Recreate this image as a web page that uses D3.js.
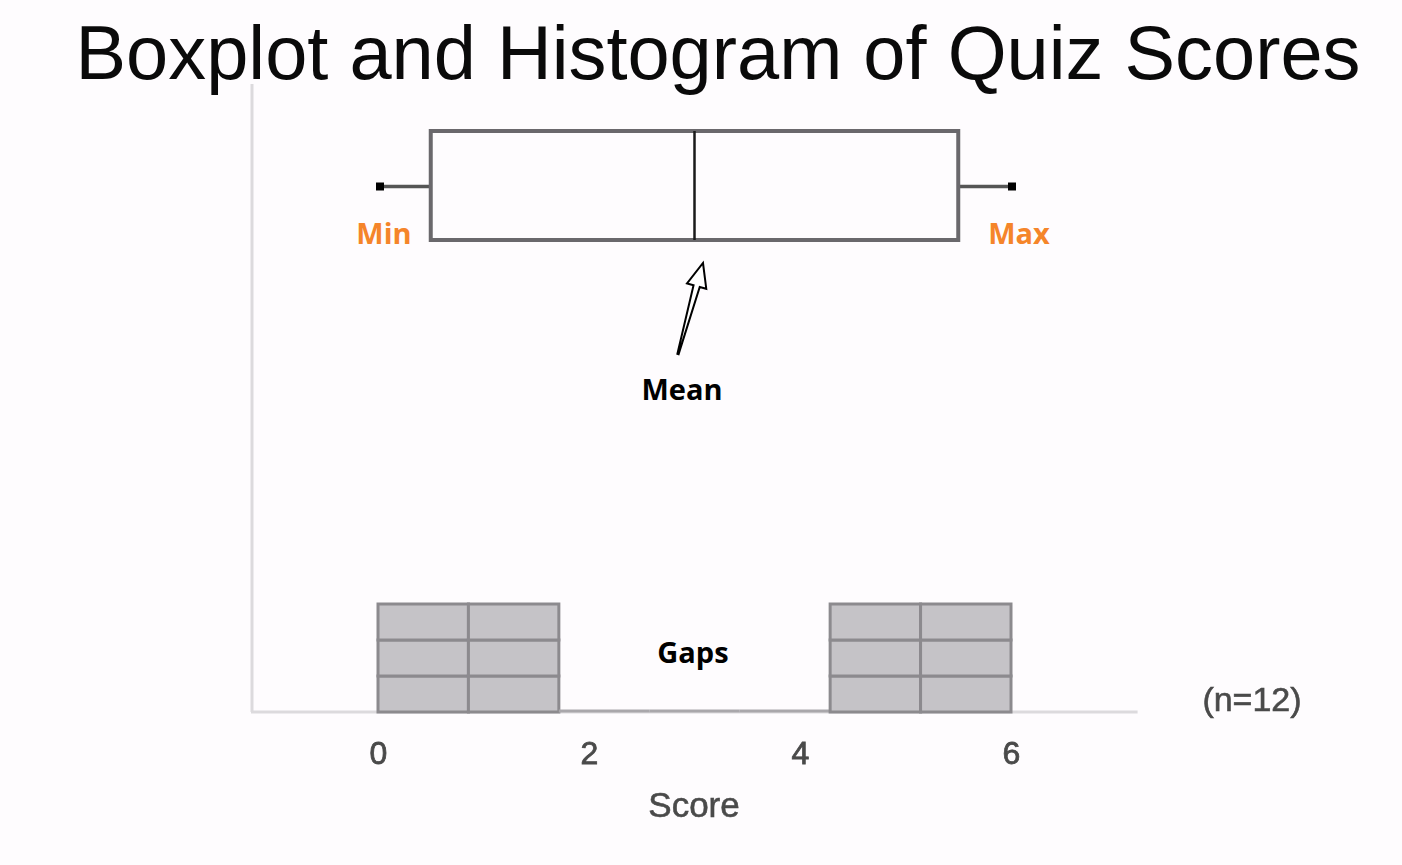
<!DOCTYPE html>
<html>
<head>
<meta charset="utf-8">
<script src="https://cdn.jsdelivr.net/npm/d3@7"></script>
<style>
  html, body { margin: 0; padding: 0; background: #fefcfe; }
  svg { display: block; }
</style>
</head>
<body>
<svg id="chart" width="1402" height="865"></svg>
<script>
// ---- data ----
const titleText = "Boxplot and Histogram of Quiz Scores";
const binEdges = [0, 6/7, 12/7, 18/7, 24/7, 30/7, 36/7, 6];
const binCounts = [3, 3, 0, 0, 0, 3, 3];
const boxStats = { min: 0, q1: 0.5, median: 3, q3: 5.5, max: 6 };
const tickValues = [0, 2, 4, 6];
const xLabel = "Score";
const nLabel = "(n=12)";
const annotations = ["Min", "Max", "Mean", "Gaps"];

// ---- layout ----
const svg = d3.select("#chart");
const x = d3.scaleLinear().domain([0, 6]).range([378, 1011]);
const y = d3.scaleLinear().domain([0, 3]).range([712, 604]);

// title
svg.append("text")
  .attr("x", 718).attr("y", 79)
  .attr("text-anchor", "middle")
  .attr("font-family", "Liberation Sans, Arial, sans-serif")
  .attr("font-size", 75.8)
  .attr("fill", "#0a0a0a")
  .text(titleText);

// y axis line (light)
svg.append("line")
  .attr("x1", 252).attr("x2", 252)
  .attr("y1", 84).attr("y2", y(0))
  .attr("stroke", "#dcdadd").attr("stroke-width", 3);

// x axis line (light)
svg.append("line")
  .attr("x1", 251).attr("x2", x(7.2))
  .attr("y1", y(0)).attr("y2", y(0))
  .attr("stroke", "#dcdadd").attr("stroke-width", 3);

// histogram bins as stacked unit cells
const bins = binCounts.map((c, i) => ({ x0: binEdges[i], x1: binEdges[i + 1], count: c }));
const histG = svg.append("g");
bins.forEach(b => {
  if (b.count === 0) {
    histG.append("line")
      .attr("x1", x(b.x0)).attr("x2", x(b.x1))
      .attr("y1", y(0) - 1).attr("y2", y(0) - 1)
      .attr("stroke", "#a9a7ab").attr("stroke-width", 3);
  } else {
    d3.range(b.count).forEach(k => {
      histG.append("rect")
        .attr("x", x(b.x0)).attr("y", y(k + 1))
        .attr("width", x(b.x1) - x(b.x0))
        .attr("height", y(k) - y(k + 1))
        .attr("fill", "#c5c3c7")
        .attr("stroke", "#8c8a8e").attr("stroke-width", 3);
    });
  }
});

// x axis tick labels
const axis = d3.axisBottom(x).tickValues(tickValues).tickSize(0).tickPadding(0).tickFormat(d3.format("d"));
const axG = svg.append("g").attr("transform", `translate(0, 764)`).call(axis);
axG.select(".domain").remove();
axG.selectAll("text")
  .attr("dy", 0).attr("y", 0)
  .attr("font-family", "Liberation Sans, Arial, sans-serif")
  .attr("font-size", 32)
  .attr("fill", "#4a4a4a")
  .attr("stroke", "#4a4a4a").attr("stroke-width", 0.8)
  .attr("style", "filter: blur(0.7px)");

svg.append("text")
  .attr("x", 694).attr("y", 817)
  .attr("text-anchor", "middle")
  .attr("font-family", "Liberation Sans, Arial, sans-serif")
  .attr("font-size", 35)
  .attr("fill", "#4a4a4a")
  .attr("stroke", "#4a4a4a").attr("stroke-width", 0.6)
  .attr("style", "filter: blur(0.7px)")
  .text(xLabel);

svg.append("text")
  .attr("x", 1252).attr("y", 711)
  .attr("text-anchor", "middle")
  .attr("font-family", "Liberation Sans, Arial, sans-serif")
  .attr("font-size", 34)
  .attr("fill", "#4a4a4a")
  .attr("stroke", "#4a4a4a").attr("stroke-width", 0.6)
  .attr("style", "filter: blur(0.7px)")
  .text(nLabel);

// boxplot
const boxTop = 131, boxBot = 240, boxMid = (boxTop + boxBot) / 2 + 1;
const bp = svg.append("g");
bp.append("line")
  .attr("x1", x(boxStats.min)).attr("x2", x(boxStats.q1))
  .attr("y1", boxMid).attr("y2", boxMid)
  .attr("stroke", "#555").attr("stroke-width", 3.5);
bp.append("line")
  .attr("x1", x(boxStats.q3)).attr("x2", x(boxStats.max))
  .attr("y1", boxMid).attr("y2", boxMid)
  .attr("stroke", "#555").attr("stroke-width", 3.5);
bp.append("rect")
  .attr("x", x(boxStats.q1)).attr("y", boxTop)
  .attr("width", x(boxStats.q3) - x(boxStats.q1))
  .attr("height", boxBot - boxTop)
  .attr("fill", "#fefcfe")
  .attr("stroke", "#6a686c").attr("stroke-width", 4);
bp.append("line")
  .attr("x1", x(boxStats.median)).attr("x2", x(boxStats.median))
  .attr("y1", boxTop).attr("y2", boxBot)
  .attr("stroke", "#1a1a1a").attr("stroke-width", 2.5);
[boxStats.min, boxStats.max].forEach(v => {
  bp.append("rect")
    .attr("x", x(v) - 4 + (v === boxStats.min ? 2 : 1)).attr("y", boxMid - 4)
    .attr("width", 8).attr("height", 8)
    .attr("fill", "#000");
});

// annotation labels
const labelFont = "'Open Sans', 'Noto Sans', sans-serif";
const lab = (txt, lx, ly, col, fs) => svg.append("text").attr("x", lx).attr("y", ly)
  .attr("text-anchor", "middle")
  .attr("font-family", labelFont).attr("font-weight", 700).attr("font-size", fs)
  .attr("fill", col).text(txt);
lab(annotations[0], 384, 244, "#f5852a", 29);
lab(annotations[1], 1019, 244, "#f5852a", 29);
lab(annotations[2], 682, 400, "#000", 29);
lab(annotations[3], 693, 663, "#000", 29);

// hollow arrow pointing to the median
const tail = [678, 354], tip = [703, 263];
const dx = tip[0] - tail[0], dy = tip[1] - tail[1];
const L = Math.hypot(dx, dy);
const ang = Math.atan2(dy, dx) * 180 / Math.PI;
const headL = 24, headW = 10, shaftW = 3.2;
const pts = [[0, -0.6], [L - headL, -shaftW], [L - headL, -headW], [L, 0], [L - headL, headW], [L - headL, shaftW], [0, 0.6]];
svg.append("path")
  .attr("transform", `translate(${tail[0]},${tail[1]}) rotate(${ang})`)
  .attr("d", d3.line()(pts) + "Z")
  .attr("fill", "#fff")
  .attr("stroke", "#000").attr("stroke-width", 2)
  .attr("stroke-linejoin", "miter");
</script>
</body>
</html>
